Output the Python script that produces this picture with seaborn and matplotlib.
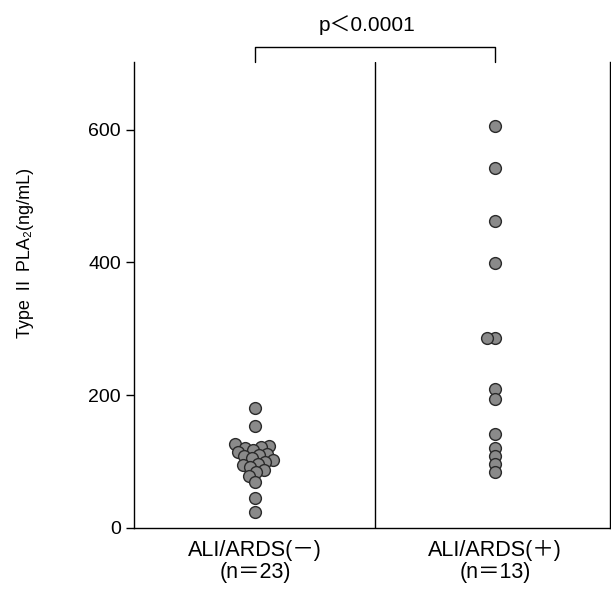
import matplotlib
matplotlib.use("Agg")
import matplotlib.pyplot as plt
import seaborn as sns
import pandas as pd

# values (ng/mL)
groups = ["ALI/ARDS(－)\n(n＝23)", "ALI/ARDS(＋)\n(n＝13)"]
ards_neg = [181, 154, 126, 124, 122, 120, 118, 115, 112, 110, 108, 105,
            102, 100, 97, 95, 92, 88, 84, 78, 70, 45, 24]
ards_pos = [606, 543, 462, 399, 286, 286, 210, 195, 142, 121, 109, 97, 85]
yticks = [0, 200, 400, 600]
p_text = "p＜0.0001"

df = pd.DataFrame({
    "group": [groups[0]] * len(ards_neg) + [groups[1]] * len(ards_pos),
    "value": ards_neg + ards_pos,
})

sns.set_style("white")
plt.rcParams["font.family"] = ["Liberation Sans", "Noto Sans CJK JP", "DejaVu Sans"]
plt.rcParams["text.color"] = "black"
plt.rcParams["axes.labelcolor"] = "black"
plt.rcParams["xtick.color"] = "black"
plt.rcParams["ytick.color"] = "black"

fig = plt.figure(figsize=(6.11, 5.98), dpi=100)
ax = fig.add_axes([0.2193, 0.1171, 0.7790, 0.7792])
ax.set_xlim(-0.504, 1.479)
ax.set_ylim(0, 702)

# lay out a tight swarm with small dots, then redraw them bigger so they overlap
sns.swarmplot(data=df, x="group", y="value", order=groups, ax=ax,
              color="#8a8a8a", size=5.5)
ax.set_xlim(-0.504, 1.479)
ax.set_ylim(0, 702)
fig.canvas.draw()
for coll in list(ax.collections):
    offs = coll.get_offsets().copy()
    coll.remove()
    ax.scatter(offs[:, 0], offs[:, 1], s=8.5 ** 2, color="#8a8a8a",
               edgecolor="#2a2a2a", linewidth=1.0, zorder=3)

ax.set_xlim(-0.504, 1.479)
ax.set_ylim(0, 702)
ax.set_yticks(yticks)
ax.tick_params(axis="y", direction="out", length=6, width=1, labelsize=14, left=True)
ax.tick_params(axis="x", length=0, labelsize=15.5, pad=9)
for lab in ax.get_xticklabels():
    lab.set_linespacing(1.05)
ax.set_xlabel("")
ax.set_ylabel("Type Ⅱ PLA₂(ng/mL)", fontsize=13)
ax.yaxis.set_label_coords(-0.21, 0.59)

for s in ["left", "bottom", "right"]:
    ax.spines[s].set_visible(True)
    ax.spines[s].set_color("black")
    ax.spines[s].set_linewidth(1)
ax.spines["top"].set_visible(False)
ax.axvline(0.5, color="black", lw=1)

# significance bracket
ax.plot([0, 0, 1, 1], [702, 724, 724, 702], color="black", lw=1, clip_on=False)
ax.text(0.465, 758, p_text, ha="center", va="center", fontsize=15, clip_on=False)

fig.savefig("out.png", dpi=100)
